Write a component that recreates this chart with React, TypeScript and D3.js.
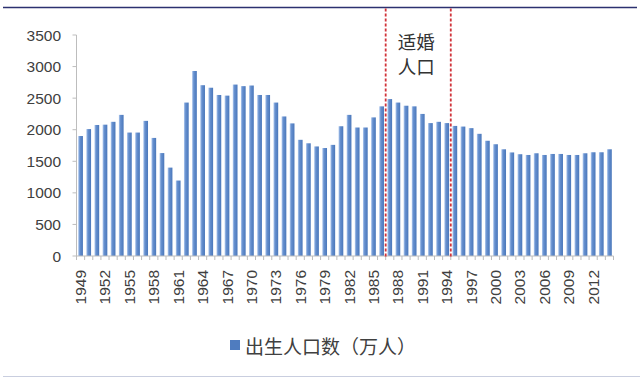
import React from "react";
import * as d3 from "d3";

// Annual births in China, 1949–2014 (unit: 10,000 people)
const years: number[] = d3.range(1949, 2015);
const births: number[] = [
  1900, 2010, 2075, 2080, 2125, 2235, 1955, 1955, 2140, 1870,
  1630, 1400, 1195, 2430, 2930, 2705, 2665, 2550, 2540, 2715,
  2690, 2700, 2550, 2550, 2430, 2210, 2100, 1840, 1785, 1735,
  1710, 1760, 2055, 2235, 2035, 2035, 2195, 2370, 2485, 2430,
  2380, 2370, 2250, 2105, 2125, 2105, 2060, 2050, 2025, 1935,
  1825, 1770, 1690, 1640, 1612, 1600, 1627, 1600, 1616, 1616,
  1600, 1600, 1627, 1643, 1643, 1690,
];
const yTicks: number[] = [0, 500, 1000, 1500, 2000, 2500, 3000, 3500];
// every third year gets a label
const labelYears: number[] = years.filter((y) => (y - 1949) % 3 === 0);
// marriage-age window boundaries: drawn between these year pairs
const windowBounds: [number, number][] = [
  [1986, 1987],
  [1994, 1995],
];
const seriesName = "出生人口数（万人）";
const windowLabel = ["适婚", "人口"];

const W = 643;
const H = 378;
const plot = { left: 76.5, right: 613.5, top: 35, bottom: 256 };

export default function App() {
  const x = d3
    .scaleBand<number>()
    .domain(years)
    .range([plot.left, plot.right])
    .paddingInner(0.42)
    .paddingOuter(0.21);
  const y = d3.scaleLinear().domain([0, 3500]).range([plot.bottom, plot.top]);
  const bw = x.bandwidth();
  const catW = (plot.right - plot.left) / years.length;
  const catLeft = (yr: number) => plot.left + years.indexOf(yr) * catW;

  const textColor = "#404040";
  const font = "'Liberation Sans', Arial, sans-serif";
  const cjk = "'Noto Sans CJK SC', sans-serif";

  return (
    <div style={{ position: "absolute", left: 0, top: 0 }}>
      <svg width={W} height={H} style={{ display: "block", background: "#fff" }}>
        <defs>
          <linearGradient id="barFill" x1="0" x2="1" y1="0" y2="0">
            <stop offset="0%" stopColor="#b0c9ee" />
            <stop offset="35%" stopColor="#6690cf" />
            <stop offset="100%" stopColor="#4a77ba" />
          </linearGradient>
        </defs>

        {/* frame */}
        <line x1={3} x2={637} y1={7.5} y2={7.5} stroke="#2c3170" strokeWidth={1.6} />
        <line x1={3} x2={640} y1={376.5} y2={376.5} stroke="#c9cedf" strokeWidth={1.2} />

        {/* y axis */}
        <line x1={plot.left} x2={plot.left} y1={plot.top} y2={plot.bottom} stroke="#bdbdbd" />
        {yTicks.map((t) => (
          <g key={t}>
            <line x1={plot.left - 4} x2={plot.left} y1={y(t)} y2={y(t)} stroke="#bdbdbd" />
            <text
              x={61}
              y={y(t)}
              textAnchor="end"
              dominantBaseline="central"
              fontFamily={font}
              fontSize={15.5}
              fill={textColor}
            >
              {t}
            </text>
          </g>
        ))}

        {/* bars */}
        {years.map((yr, i) => (
          <rect
            key={yr}
            x={x(yr)}
            y={y(births[i])}
            width={bw}
            height={plot.bottom - y(births[i])}
            fill="url(#barFill)"
          />
        ))}

        {/* x axis */}
        <line x1={plot.left} x2={plot.right} y1={plot.bottom} y2={plot.bottom} stroke="#bdbdbd" />
        {d3.range(years.length + 1).map((i) => (
          <line
            key={i}
            x1={plot.left + i * catW}
            x2={plot.left + i * catW}
            y1={plot.bottom}
            y2={plot.bottom + 4}
            stroke="#bdbdbd"
          />
        ))}
        {labelYears.map((yr) => {
          const cx = catLeft(yr) + catW / 2;
          return (
            <text
              key={yr}
              transform={`translate(${cx},${plot.bottom + 14}) rotate(-90)`}
              textAnchor="end"
              dominantBaseline="central"
              fontFamily={font}
              fontSize={15.5}
              fill={textColor}
            >
              {yr}
            </text>
          );
        })}

        {/* marriage-age window */}
        {windowBounds.map(([a]) => {
          const bx = catLeft(a) + catW;
          return (
            <line
              key={a}
              x1={bx}
              x2={bx}
              y1={8.5}
              y2={plot.bottom + 2}
              stroke="#d0333a"
              strokeWidth={1.8}
              strokeDasharray="3 2"
            />
          );
        })}
        {windowLabel.map((s, i) => (
          <text
            key={s}
            x={catLeft(windowBounds[0][0]) + catW + 12}
            y={41 + i * 25}
            dominantBaseline="central"
            fontFamily={cjk}
            fontSize={18.5}
            fill="#333"
          >
            {s}
          </text>
        ))}

        {/* legend */}
        <rect x={230} y={340} width={10} height={10} fill="#4f7cbf" />
        <text
          x={245}
          y={345}
          dominantBaseline="central"
          fontFamily={cjk}
          fontSize={19}
          fill={textColor}
        >
          {seriesName}
        </text>
      </svg>
    </div>
  );
}
